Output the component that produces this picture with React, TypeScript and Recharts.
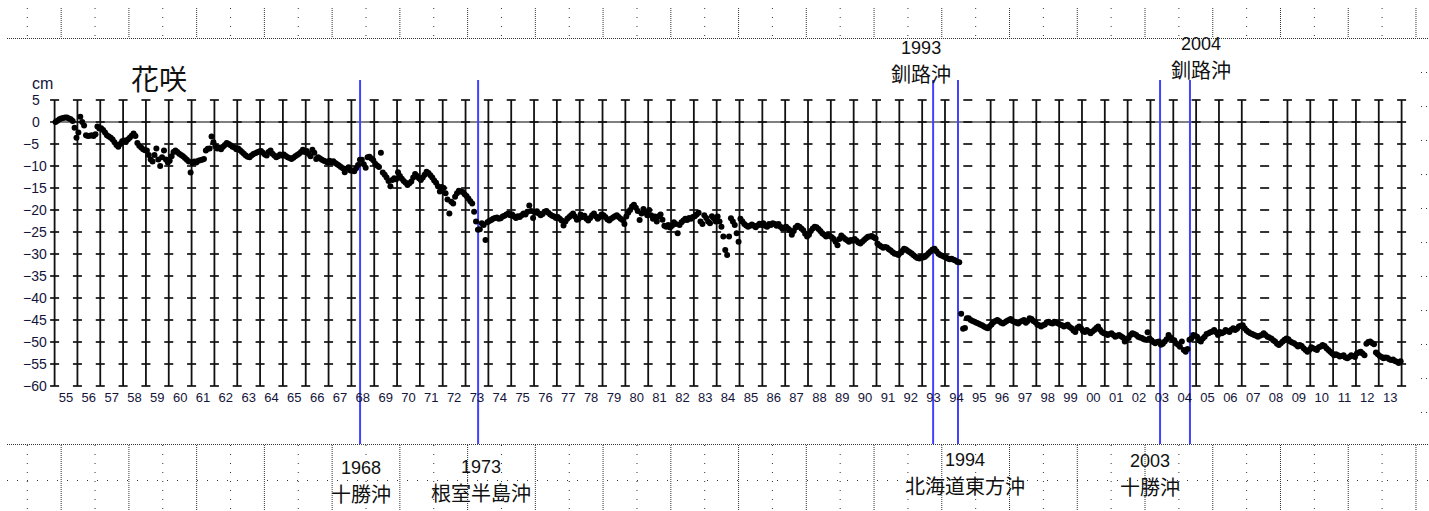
import React from 'react'
import { ScatterChart, Scatter, XAxis, YAxis, ReferenceLine } from 'recharts'

// 花咲 tide gauge, monthly mean level (cm), one row per year
const LEVEL_1955 = [
  0, 0.3, 0.6, 0.8, 0.9, 1.0, 1.0, 0.8, 0.6, 0.2, -1.3, -3.6,
  -2.4, 1.2, 0.0, -0.8, -3.0, -3.2, -3.1, -3.0, -3.2, -2.8, -1.0, -1.5,
  -1.4, -1.8, -2.4, -3.0, -3.3, -3.6, -4.0, -4.6, -5.2, -5.6, -5.0, -4.4,
  -4.2, -4.5, -4.0, -3.6, -3.1, -2.6, -3.2, -4.8, -5.4, -5.8, -6.2, -6.4,
  -6.5, -7.5, -8.5, -9.0, -7.5, -6.0, -8.5, -10.0, -8.0, -6.5, -8.5, -9.2,
  -8.8, -7.8, -6.8, -6.5, -6.8, -7.2, -7.5, -7.8, -8.2, -8.6, -9.0, -11.5,
  -9.3, -9.0, -9.2, -8.8, -8.7, -8.6, -8.4, -6.5, -6.1, -6.0, -3.3, -4.6,
  -5.5, -6.0, -5.8, -6.2, -5.6, -5.2, -4.8, -5.0, -5.3, -5.6, -5.8, -6.2,
  -6.0, -6.4, -6.8, -7.2, -7.6, -7.9, -8.0, -7.6, -7.3, -7.1, -6.9, -6.7,
  -6.6, -7.0, -7.4, -7.6, -6.8, -6.5, -7.2, -7.6, -8.0, -7.8, -7.4, -7.6,
]

const LEVEL_1965 = [
  -7.4, -7.7, -8.0, -8.2, -8.4, -8.1, -7.8, -7.5, -7.2, -6.8, -6.3, -6.8,
  -6.6, -7.2, -7.8, -6.3, -7.0, -8.4, -8.0, -8.3, -8.6, -8.8, -9.0, -9.2,
  -8.8, -9.2, -8.9, -9.3, -9.6, -9.9, -10.2, -10.5, -11.4, -10.6, -10.3, -11.0,
  -11.0, -11.2, -10.5, -9.8, -8.6, -8.6, -9.6, -10.4, -8.0, -7.9, -8.3, -8.7,
  -9.5, -9.9, -10.2, -7.0, -11.5, -12.0, -12.6, -13.4, -14.6, -13.2, -12.8, -13.0,
  -11.4, -12.3, -12.9, -13.4, -13.8, -14.3, -13.9, -13.5, -12.6, -11.8, -12.3, -12.8,
  -13.2, -12.6, -12.0, -11.3, -11.6, -12.1, -12.6, -13.3, -13.8, -14.6, -15.8, -14.8,
  -15.0, -16.2, -17.6, -20.8, -18.1, -18.5, -17.0, -16.2, -15.6, -15.8, -15.9, -16.4,
  -16.8, -17.4, -18.0, -18.5, -20.4, -22.6, -24.5, -24.4, -23.0, -23.4, -26.8, -22.8,
  -22.5, -22.3, -22.0, -21.8, -21.7, -22.0, -21.9, -21.5, -21.3, -21.0, -20.8, -21.2,
]

const LEVEL_1975 = [
  -21.0, -21.5, -21.8, -21.4, -21.6, -21.2, -20.8, -21.0, -20.4, -19.0, -20.2, -21.8,
  -20.6, -20.3, -20.8, -21.2, -20.9, -20.4, -20.2, -20.6, -21.0, -21.3, -21.5, -21.8,
  -21.6, -22.0, -22.4, -23.5, -22.6, -22.0, -21.6, -21.2, -20.8, -21.5, -22.2, -22.0,
  -21.0, -21.6, -21.3, -22.0, -22.4, -21.8, -21.2, -20.8, -21.5, -22.0, -21.6, -21.0,
  -21.2, -21.6, -22.1, -22.4, -22.0, -21.7, -21.4, -21.2, -21.6, -22.0, -22.3, -23.2,
  -21.5, -20.6, -20.0, -19.2, -18.8, -19.5, -20.2, -22.3, -20.8, -19.8, -20.5, -21.2,
  -20.0, -21.2, -22.0, -21.5, -22.6, -21.4, -21.0, -22.2, -23.6, -23.8, -23.4, -24.0,
  -23.6, -22.8, -23.2, -25.3, -23.4, -22.8, -22.4, -22.0, -22.3, -21.8, -22.0, -21.6,
  -21.4, -21.0, -20.6, -22.6, -23.2, -21.2, -21.8, -22.6, -23.0, -21.4, -21.9, -22.6,
  -21.5, -22.6, -23.8, -26.0, -29.1, -30.2, -26.0, -21.9, -22.6, -23.4, -25.3, -27.2,
]

const LEVEL_1985 = [
  -22.0, -22.6, -23.2, -23.5, -23.8, -23.6, -23.3, -23.6, -23.9, -23.5, -23.1, -23.4,
  -23.0, -23.6, -23.8, -23.2, -23.4, -23.0, -23.2, -23.6, -23.2, -23.8, -24.2, -24.0,
  -23.8, -24.2, -24.6, -25.6, -24.8, -24.0, -23.6, -23.8, -24.2, -24.6, -25.4, -26.0,
  -25.6, -24.8, -24.2, -23.8, -23.9, -24.3, -24.8, -25.3, -25.6, -26.0, -25.6, -25.9,
  -26.2, -26.6, -27.2, -28.0, -26.6, -25.8, -26.2, -26.6, -26.9, -27.2, -26.8, -27.0,
  -26.6, -27.0, -27.4, -27.6, -27.2, -26.8, -26.4, -26.1, -26.0, -25.9, -26.2, -26.5,
  -27.6, -28.0, -28.3, -28.6, -28.4, -28.5, -28.9, -29.2, -29.6, -29.9, -30.0, -30.2,
  -29.8, -29.3, -28.8, -29.0, -29.3, -29.6, -29.9, -30.3, -30.6, -30.9, -31.0, -30.6,
  -30.8, -30.6, -30.2, -29.8, -29.4, -29.0, -28.8, -29.4, -29.9, -30.2, -30.4, -30.6,
  -30.8, -31.0, -31.2, -31.1, -31.3, -31.5, -31.8, -31.9, -43.6, -47.0, -46.8, -44.6,
]

const LEVEL_1995 = [
  -44.6, -45.0, -45.2, -45.4, -45.6, -45.8, -46.0, -46.2, -46.5, -46.7, -46.9, -46.4,
  -46.0, -45.5, -45.2, -45.0, -45.3, -45.6, -45.8, -45.5, -45.2, -45.0, -44.8, -45.2,
  -45.4, -45.6, -45.8, -45.4, -45.2, -45.0, -45.6, -45.2, -44.6, -44.8, -45.2, -45.5,
  -46.0, -46.2, -46.5, -46.2, -46.0, -45.5, -45.4, -45.7, -45.8, -45.4, -45.6, -45.8,
  -46.0, -46.2, -46.5, -46.3, -46.1, -46.6, -46.9, -47.4, -47.7, -46.8, -46.5, -46.9,
  -47.5, -47.7, -47.3, -47.6, -48.0, -47.6, -47.3, -46.8, -46.5, -47.2, -47.7, -48.0,
  -48.1, -48.4, -48.2, -48.0, -48.4, -48.8, -48.6, -48.4, -48.7, -49.0, -49.9, -49.3,
  -49.1, -48.4, -48.0, -48.2, -48.4, -48.8, -49.0, -49.1, -49.4, -49.5, -47.8, -49.2,
  -49.6, -50.0, -50.3, -50.0, -49.9, -50.6, -50.4, -49.9, -49.4, -48.4, -49.0, -49.5,
  -49.6, -50.3, -50.6, -51.1, -49.9, -51.8, -52.2, -51.6, -49.5, -49.2, -48.4, -48.6,
]

const LEVEL_2005 = [
  -48.8, -49.6, -49.9, -49.2, -48.8, -48.2, -48.0, -47.8, -47.6, -47.3, -47.8, -48.4,
  -47.7, -48.0, -47.8, -47.3, -47.5, -47.7, -47.2, -46.9, -47.3, -47.0, -46.5, -46.3,
  -46.2, -46.9, -47.4, -47.7, -48.0, -48.2, -48.4, -48.6, -48.8, -48.6, -48.4, -48.0,
  -48.4, -48.8, -49.0, -49.2, -49.6, -49.9, -50.4, -50.7, -50.3, -49.9, -49.5, -49.2,
  -49.4, -49.9, -50.1, -50.3, -50.6, -51.0, -50.7, -50.9, -51.4, -51.8, -52.2, -51.8,
  -51.2, -51.4, -51.6, -51.8, -51.2, -51.0, -50.7, -50.9, -51.4, -51.8, -52.2, -52.6,
  -53.0, -52.8, -53.0, -53.3, -53.2, -53.0, -53.5, -53.7, -53.4, -53.0, -53.2, -53.4,
  -52.6, -52.4, -52.2, -52.6, -53.0, -50.4, -50.0, -49.9, -50.2, -50.5, -52.4, -52.8,
  -53.2, -53.4, -53.7, -53.5, -53.6, -53.9, -54.1, -54.0, -54.3, -54.5, -54.8, -54.4,
]

const BLOCKS: Array<[number, number[]]> = [
  [1955, LEVEL_1955],
  [1965, LEVEL_1965],
  [1975, LEVEL_1975],
  [1985, LEVEL_1985],
  [1995, LEVEL_1995],
  [2005, LEVEL_2005],
]

// year boundaries 1955..2014; no drawn line at these two
const YEARS = Array.from({ length: 60 }, (_, i) => 1955 + i)
const NO_LINE = [1995, 2008]
const Y_TICKS = [5, 0, -5, -10, -15, -20, -25, -30, -35, -40, -45, -50, -55, -60]

const QUAKES = [
  { t: 1968.38, year: '1968', name: '十勝沖' },
  { t: 1973.55, year: '1973', name: '根室半島沖' },
  { t: 1993.48, year: '1993', name: '釧路沖' },
  { t: 1994.57, year: '1994', name: '北海道東方沖' },
  { t: 2003.42, year: '2003', name: '十勝沖' },
  { t: 2004.73, year: '2004', name: '釧路沖' },
]

// label placement (px) for each quake caption
const CAPTION: Record<string, { dx: number; y: number }> = {
  '1968': { dx: 1, y: 475 },
  '1973': { dx: 3, y: 474 },
  '1993': { dx: -12, y: 55 },
  '1994': { dx: 7, y: 467 },
  '2003': { dx: -10, y: 468 },
  '2004': { dx: 11, y: 51 },
}

const points = BLOCKS.flatMap(([start, vals]) =>
  vals.map((v, i) => ({ t: start + (i + 0.5) / 12, v }))
)
const gridMarks = YEARS.flatMap((t) => Y_TICKS.map((v) => ({ t, v })))
const xTicks = YEARS.slice(0, -1).map((y) => y + 0.5)

const SANS = '"Liberation Sans", Arial, sans-serif'
const CJK = '"Noto Sans CJK JP", "Noto Sans", sans-serif'
const LABEL = '#14143a'

const XTick = (p: any) => {
  const yr = Math.floor(p.payload.value) % 100
  return (
    <text x={p.x} y={p.y + 15.5} textAnchor="middle" fontSize={13} fontFamily={SANS} fill={LABEL}>
      {String(yr).padStart(2, '0')}
    </text>
  )
}

const YTick = (p: any) => {
  const v = p.payload.value
  return (
    <text x={p.x - (v < 0 ? 31.6 : 22.6)} y={p.y + 5} textAnchor="start" fontSize={14} fontFamily={SANS} fill={LABEL}>
      {v < 0 ? '\u2212' + Math.abs(v) : String(v)}
    </text>
  )
}

const Dash = (p: any) => (
  <line x1={p.cx - 4.5} x2={p.cx + 4.5} y1={p.cy} y2={p.cy} stroke="#111" strokeWidth={1.7} />
)

const Dot = (p: any) => <circle cx={p.cx} cy={p.cy} r={3} fill="#000" />

function quakeShape(q: (typeof QUAKES)[number]) {
  return (p: any) => {
    const c = CAPTION[q.year]
    const cx = p.x1 + c.dx
    return (
      <g>
        <line x1={p.x1} x2={p.x1} y1={80} y2={444} stroke="#4343ff" strokeWidth={2} />
        <text x={cx} y={c.y - 1.5} textAnchor="middle" fontSize={18} fontFamily={SANS} fill="#111">
          {q.year}
        </text>
        <text x={cx} y={c.y + 26.5} textAnchor="middle" fontSize={20} fontFamily={CJK} fill="#111">
          {q.name}
        </text>
      </g>
    )
  }
}

// the spreadsheet's dotted cell grid around the chart object
function PageGrid() {
  const cols = Array.from({ length: 42 }, (_, k) => 27.3 + 33.87 * k)
  const rows = Array.from({ length: 11 }, (_, k) => 72 + 34 * k)
  const dot = (k: number) => (k % 2 === 1 ? '1 1' : '1 8')
  return (
    <svg width={1429} height={511} style={{ position: 'absolute', left: 0, top: 0 }}>
      <line x1={7} x2={1429} y1={38.5} y2={38.5} stroke="#333" strokeDasharray="1 1" />
      <line x1={7} x2={1429} y1={444.5} y2={444.5} stroke="#333" strokeDasharray="1 1" />
      <line x1={7} x2={1429} y1={480.5} y2={480.5} stroke="#333" strokeDasharray="1 9" />
      {cols.map((x, k) => (
        <g key={k}>
          <line x1={x} x2={x} y1={8} y2={38} stroke="#333" strokeDasharray={dot(k)} />
          <line x1={x} x2={x} y1={445} y2={511} stroke="#333" strokeDasharray={dot(k)} />
        </g>
      ))}
      {rows.map((y) => (
        <line key={y} x1={1421} x2={1429} y1={y + 0.5} y2={y + 0.5} stroke="#333" strokeDasharray="1 4" />
      ))}
    </svg>
  )
}

export default function App() {
  return (
    <div style={{ position: 'absolute', left: 0, top: 0, width: 1429, height: 511, background: '#fff' }}>
      <PageGrid />
      <div style={{ position: 'absolute', left: 0, top: 0 }}>
        <ScatterChart width={1429} height={511} margin={{ top: 100, right: 27.4, bottom: 95, left: 4.6 }}>
          <XAxis
            type="number"
            dataKey="t"
            domain={[1955, 2014]}
            ticks={xTicks}
            interval={0}
            tick={XTick}
            tickLine={false}
            axisLine={false}
            tickSize={0}
            tickMargin={0}
            height={30}
          />
          <YAxis
            type="number"
            dataKey="v"
            domain={[-60, 5]}
            ticks={Y_TICKS}
            interval={0}
            tick={YTick}
            tickLine={false}
            axisLine={false}
            tickSize={0}
            tickMargin={0}
            width={50}
          />
          {YEARS.filter((y) => !NO_LINE.includes(y)).map((y) => (
            <ReferenceLine key={y} x={y} stroke="#111" strokeWidth={1.8} />
          ))}
          <ReferenceLine y={0} stroke="#000" strokeWidth={1.2} />
          <Scatter data={gridMarks} shape={Dash} isAnimationActive={false} />
          {QUAKES.map((q) => (
            <ReferenceLine key={q.year} x={q.t} shape={quakeShape(q)} />
          ))}
          <Scatter data={points} shape={Dot} isAnimationActive={false} />
        </ScatterChart>
      </div>
      <svg width={1429} height={511} style={{ position: 'absolute', left: 0, top: 0, pointerEvents: 'none' }}>
        <text x={131} y={90} fontSize={28} fontFamily={CJK} fill="#111">
          花咲
        </text>
        <text x={32} y={89} fontSize={16} fontFamily={SANS} fill={LABEL}>
          cm
        </text>
      </svg>
    </div>
  )
}
